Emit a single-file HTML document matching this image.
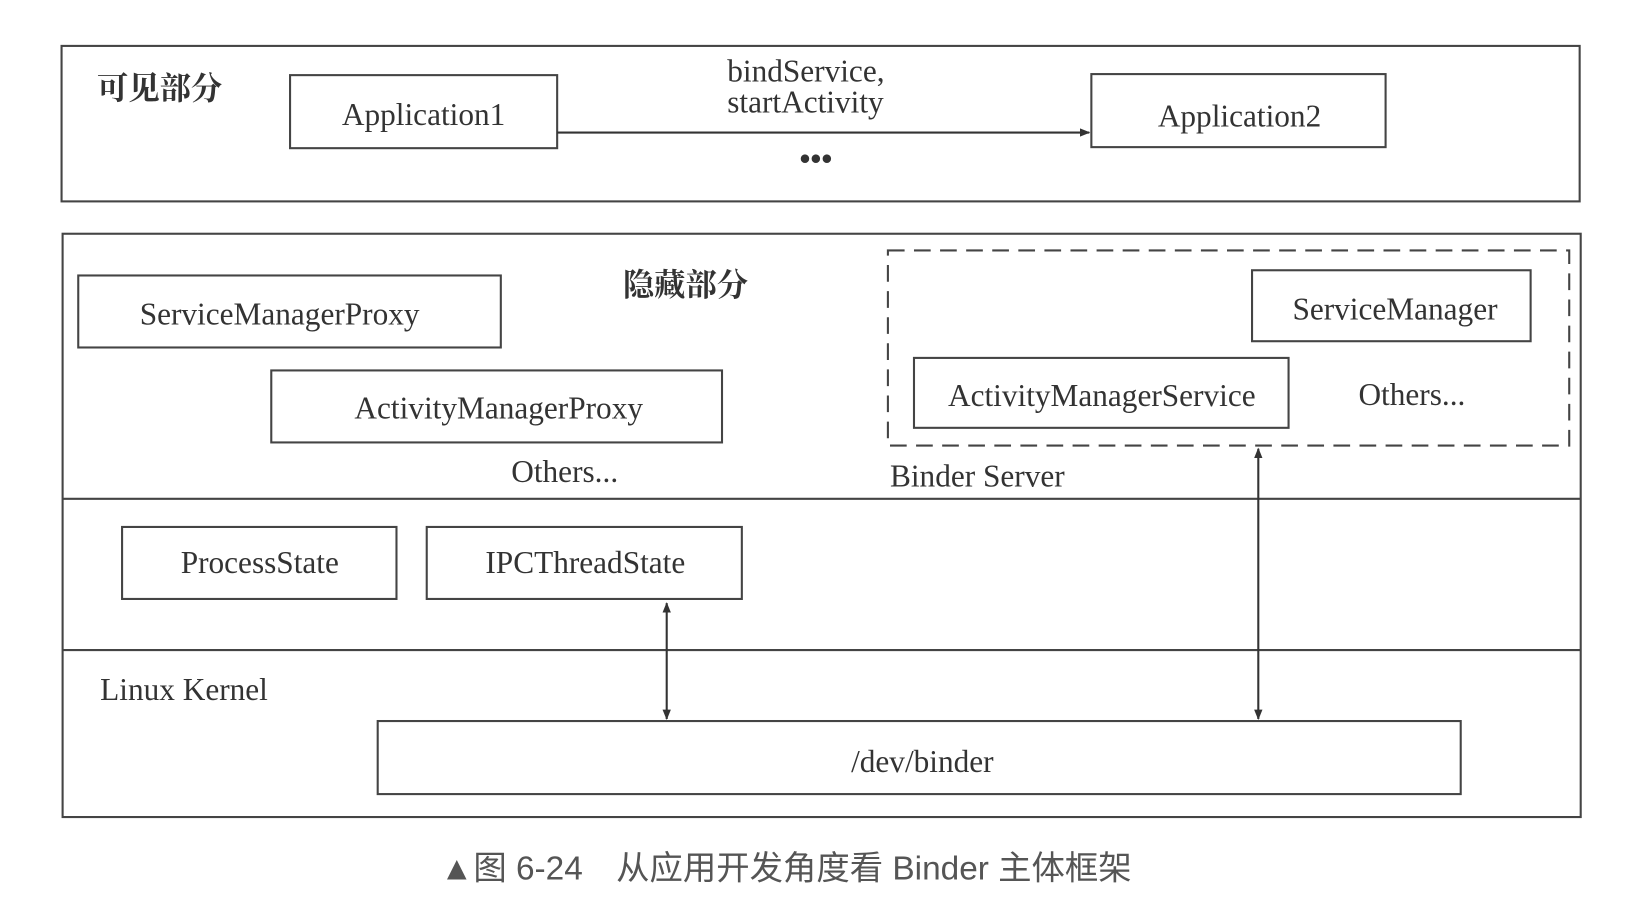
<!DOCTYPE html>
<html><head><meta charset="utf-8"><style>
html,body{margin:0;padding:0;background:#fff;}
svg{display:block;}
text{font-family:"Liberation Serif","Noto Serif CJK SC",serif;fill:#333;}
</style></head><body>
<svg width="1636" height="912" viewBox="0 0 1568 874" preserveAspectRatio="none" xmlns="http://www.w3.org/2000/svg">
<defs>
<marker id="ah" markerWidth="10" markerHeight="10" refX="9" refY="5" orient="auto-start-reverse" markerUnits="userSpaceOnUse">
<path d="M0,1 L10,5 L0,9 z" fill="#333"/></marker>
<marker id="av" markerWidth="12" markerHeight="22" refX="6" refY="21" orient="auto-start-reverse" markerUnits="userSpaceOnUse">
<path d="M0,0 L6,21 L12,0 z" fill="#333" transform="rotate(0)"/></marker>
</defs>
<g fill="none" stroke="#444" stroke-width="2">
<rect x="59" y="44" width="1455" height="149"/>
<rect x="278" y="72" width="256" height="70"/>
<rect x="1046" y="71" width="282" height="70"/>
<rect x="60" y="224" width="1455" height="559"/>
<line x1="60" y1="478" x2="1515" y2="478"/>
<line x1="60" y1="623" x2="1515" y2="623"/>
<rect x="75" y="264" width="405" height="69"/>
<rect x="260" y="355" width="432" height="69"/>
<rect x="851" y="240" width="653" height="187" stroke-dasharray="16,9"/>
<rect x="1200" y="259" width="267" height="68"/>
<rect x="876" y="343" width="359" height="67"/>
<rect x="117" y="505" width="263" height="69"/>
<rect x="409" y="505" width="302" height="69"/>
<rect x="362" y="691" width="1038" height="70"/>
</g>
<line x1="534" y1="127" x2="1044" y2="127" stroke="#333" stroke-width="2" marker-end="url(#ah)"/>
<line x1="639" y1="578" x2="639" y2="689" stroke="#333" stroke-width="2" marker-start="url(#ah)" marker-end="url(#ah)"/>
<line x1="1206" y1="430" x2="1206" y2="689" stroke="#333" stroke-width="2" marker-start="url(#ah)" marker-end="url(#ah)"/>
<g font-size="30">
<text x="93" y="95" font-weight="bold">可见部分</text>
<text x="406" y="120" text-anchor="middle">Application1</text>
<text x="697" y="78">bindService,</text>
<text x="697" y="108">startActivity</text>
<text x="782" y="162" text-anchor="middle" font-weight="bold">•••</text>
<text x="1188" y="121" text-anchor="middle">Application2</text>
<text x="597" y="283" font-weight="bold">隐藏部分</text>
<text x="268" y="311" text-anchor="middle">ServiceManagerProxy</text>
<text x="478" y="401" text-anchor="middle">ActivityManagerProxy</text>
<text x="490" y="462">Others...</text>
<text x="1337" y="306" text-anchor="middle">ServiceManager</text>
<text x="1056" y="389" text-anchor="middle">ActivityManagerService</text>
<text x="1302" y="388">Others...</text>
<text x="853" y="466">Binder Server</text>
<text x="249" y="549" text-anchor="middle">ProcessState</text>
<text x="561" y="549" text-anchor="middle">IPCThreadState</text>
<text x="96" y="671">Linux Kernel</text>
<text x="884" y="740" text-anchor="middle">/dev/binder</text>
</g>
<text x="422" y="843" font-size="32" style="font-family:'Liberation Sans','Noto Sans CJK SC',sans-serif;fill:#555">▲图 6-24　从应用开发角度看 Binder 主体框架</text>
</svg>
</body></html>
